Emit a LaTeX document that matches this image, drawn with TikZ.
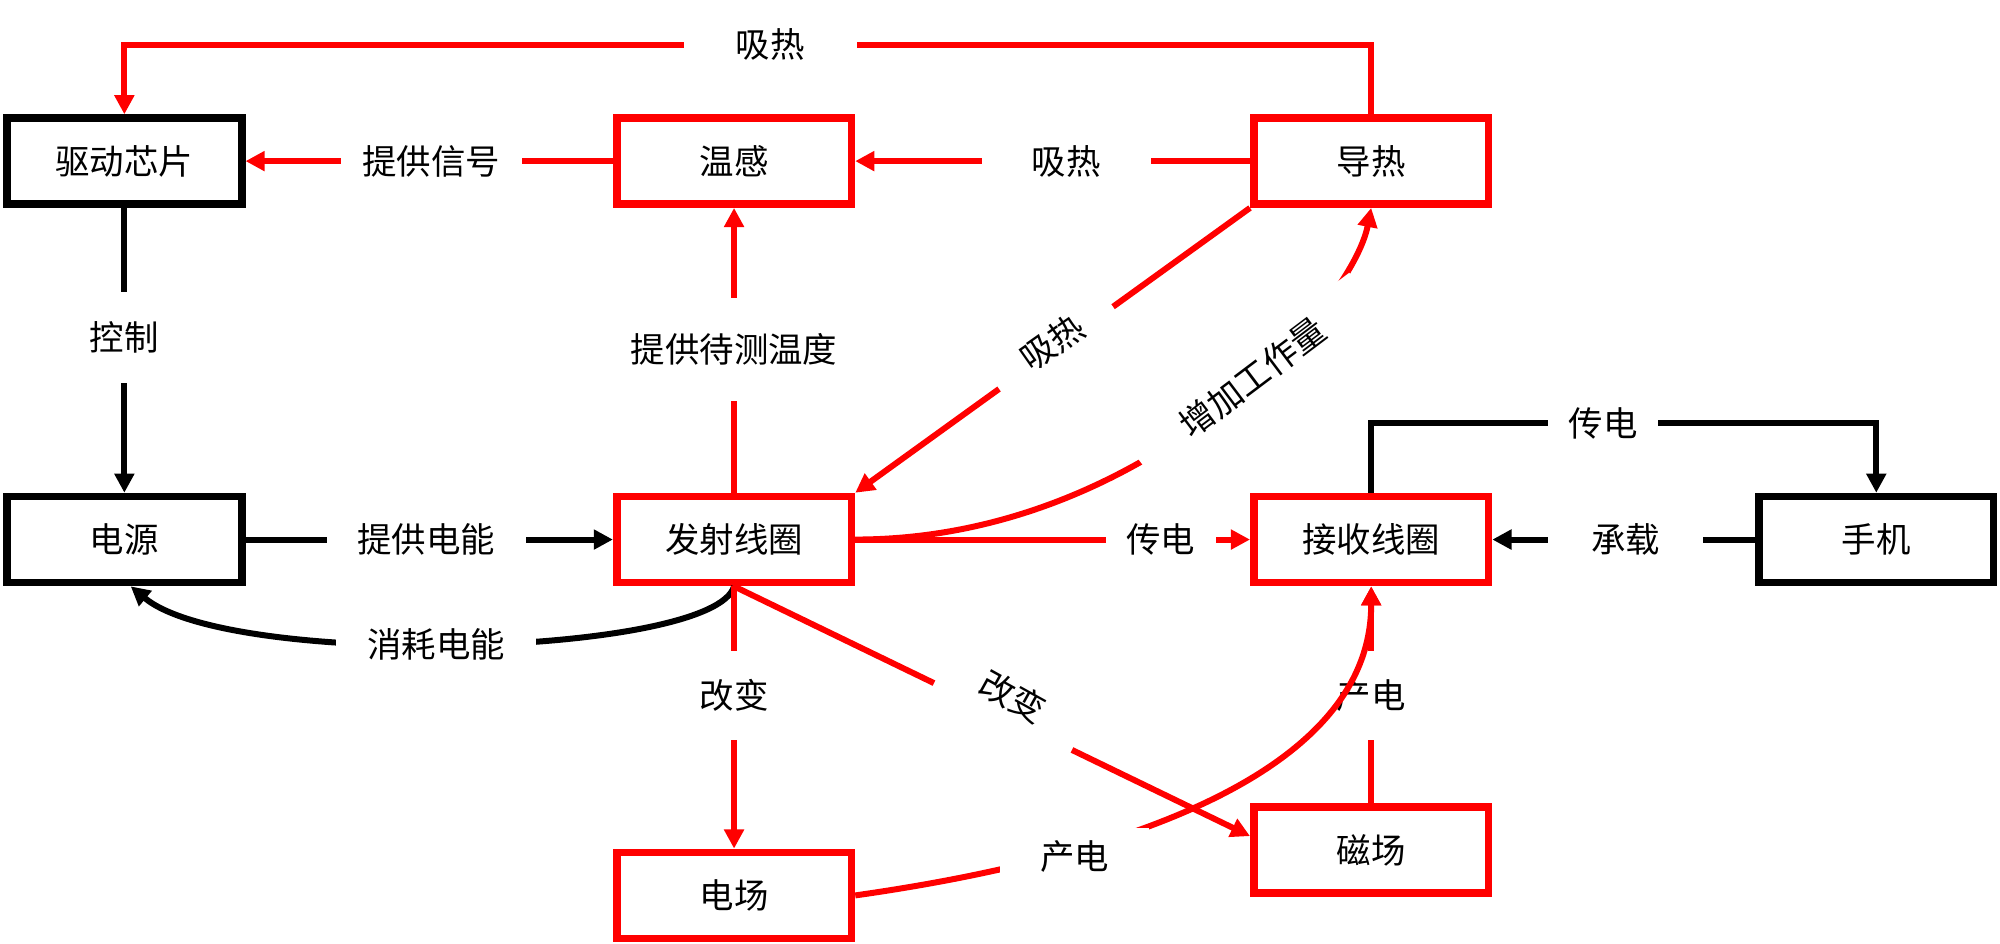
\documentclass[tikz,border=0pt]{standalone}
\usepackage{fontspec}
\newfontfamily\cjk{Noto Sans CJK SC}
\usetikzlibrary{arrows.meta,calc}
\definecolor{myred}{RGB}{255,0,0}
\begin{document}
\begin{tikzpicture}[x=0.5pt,y=0.5pt,
  txt/.style={font=\cjk\fontsize{13.5}{16}\selectfont},
  box/.style={txt, draw, line width=3pt, minimum width=92pt, minimum height=33.7pt, inner sep=0pt, fill=white},
  bbox/.style={box, draw=black},
  rbox/.style={box, draw=myred},
  conn/.style={line width=2.35pt, -{Triangle[length=7.5pt,width=7.5pt]}},
  bconn/.style={conn, color=black},
  rconn/.style={conn, color=myred},
  lbl/.style={txt, fill=white, inner sep=0pt, text=black, minimum height=14pt}
]
\fill[white] (0,0) rectangle (1568,-740);
\useasboundingbox (0,0) rectangle (1568,-740);

% boxes
\node[bbox] (chip)   at (97.5,-126.3) {驱动芯片};
\node[rbox] (temp)   at (575.5,-126.3) {温感};
\node[rbox] (heat)   at (1075,-126.3) {导热};
\node[bbox] (power)  at (97.5,-423) {电源};
\node[rbox] (tx)     at (575.5,-423) {发射线圈};
\node[rbox] (rx)     at (1075,-423) {接收线圈};
\node[bbox] (phone)  at (1471,-423) {手机};
\node[rbox] (efield) at (575.5,-702) {电场};
\node[rbox] (mfield) at (1075,-666.5) {磁场};

% helper coordinates
\coordinate (tr) at (1075,-35);
\coordinate (tl) at (97.5,-35);
\coordinate (pr) at (1075,-332);
\coordinate (pp) at (1471,-332);
\coordinate (pw) at ($(power.south)+(5,0)$);
\coordinate (mw) at ($(mfield.west)+(0,11)$);

% connectors
\draw[rconn] (heat.north) -- (tr) -- (tl) -- (chip.north);
\draw[rconn] (temp.west) -- (chip.east);
\draw[rconn] (heat.west) -- (temp.east);
\draw[bconn] (chip.south) -- (power.north);
\draw[rconn] (tx.north) -- (temp.south);
\draw[bconn] (power.east) -- (tx.west);
\draw[rconn] (tx.east) -- (rx.west);
\draw[bconn] (rx.north) -- (pr) -- (pp) -- (phone.north);
\draw[bconn] (phone.west) -- (rx.east);
\draw[bconn] (tx.south) .. controls ($(tx.south)+(-16,-55)$) and ($(pw)+(78,-65)$) .. (pw);
\draw[rconn] (tx.south) -- (efield.north);
\draw[rconn] (tx.south) -- (mw);
\draw[rconn] (heat.south west) -- (tx.north east);
\draw[rconn] (tx.east) .. controls ($(tx.east)+(229,0)$) and ($(heat.south)+(-15,-77)$) .. (heat.south);
\draw[rconn] (mfield.north) -- (rx.south);

% labels
\node[lbl, minimum width=68pt] (l1) at (604,-35) {吸热};
\node[lbl, minimum width=71pt] (l2) at (338,-126.3) {提供信号};
\node[lbl, minimum width=66pt] (l3) at (836,-126.3) {吸热};
\node[lbl, minimum width=30pt, minimum height=35.5pt] (l4) at (97.5,-264.5) {控制};
\node[lbl, minimum width=84pt, minimum height=40pt] (l5) at (575.5,-274) {提供待测温度};
\node[lbl, minimum width=78pt] (l6) at (334,-423) {提供电能};
\node[lbl, minimum width=43pt] (l7) at (910,-423) {传电};
\node[lbl, minimum width=43pt] (l8) at (1257,-332) {传电};
\node[lbl, minimum width=60.5pt] (l9) at (1274.5,-423) {承载};
\node[lbl, minimum width=78.5pt, minimum height=15pt] (l10) at (342,-505) {消耗电能};
\node[lbl, minimum width=30pt, minimum height=35pt] (l11) at (575.5,-545) {改变};
\node[lbl, rotate=-26, minimum width=60pt, minimum height=22pt] (l12) at (794,-546) {\rotatebox{-3}{改变}};
\node[lbl, rotate=35, minimum width=55pt, minimum height=15pt] (l13) at (825,-268.5) {吸热};
\node[lbl, rotate=37, minimum width=110pt, minimum height=20pt] (l14) at (982,-296) {增加工作量};
\node[lbl, minimum width=28pt, minimum height=35pt] (l15) at (1075,-545) {产电};

% curve from electric field (drawn over label l15)
\draw[rconn] (efield.east) .. controls ($(efield.east)+(198,28)$) and ($(rx.south)+(0,-150)$) .. (rx.south);
\node[lbl, minimum width=58.5pt, minimum height=22pt] (l16) at (842.5,-671.5) {产电};
\end{tikzpicture}
\end{document}
